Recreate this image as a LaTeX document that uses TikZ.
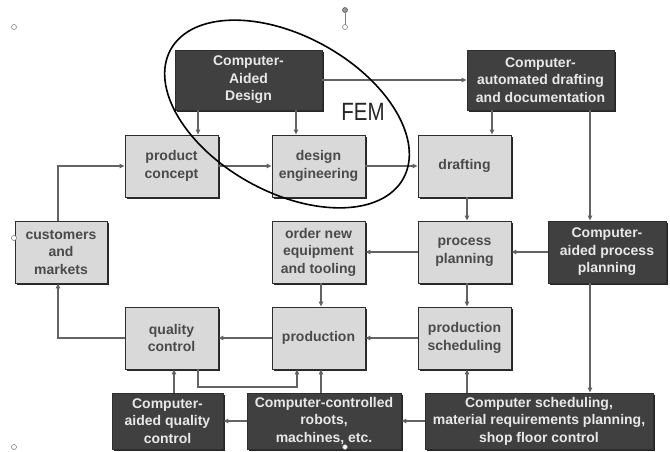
\documentclass[tikz,border=0pt]{standalone}
\usepackage{fontspec}
\usepackage{graphicx}
\setmainfont{Liberation Sans}
\usetikzlibrary{shadows,arrows.meta}
\definecolor{lightfill}{HTML}{D9D9D9}
\definecolor{darkfill}{HTML}{404040}
\definecolor{edgec}{HTML}{2E2E2E}
\definecolor{shadowc}{HTML}{262626}
\definecolor{linec}{HTML}{636363}
\definecolor{lighttext}{HTML}{4A4A4A}
\definecolor{darktext}{HTML}{E8E8E8}
\begin{document}
\begin{tikzpicture}[x=1pt,y=-1pt,
 box/.style={rectangle, draw=edgec, line width=0.9pt, inner sep=0pt, align=center,
   font=\bfseries\fontsize{14}{17.5}\selectfont,
   drop shadow={shadow xshift=2pt, shadow yshift=-2pt, fill=shadowc, opacity=1}},
 lbox/.style={box, fill=lightfill, text=lighttext},
 dbox/.style={box, fill=darkfill, text=darktext},
 arr/.style={draw=linec, line width=1.2pt, -{Triangle[length=5pt,width=4.5pt]}},
 plain/.style={draw=linec, line width=1.2pt},
 handle/.style={draw=gray, fill=white, line width=0.6pt}]
\useasboundingbox (0,0) rectangle (670,451);

% boxes
\node[dbox, minimum width=147pt, minimum height=60pt] (cad) at (248.5,80) {Computer-\\Aided\\Design};
\node[dbox, minimum width=147pt, minimum height=60pt] (cadd) at (540.5,80) {Computer-\\automated drafting\\and documentation};
\node[lbox, minimum width=93pt, minimum height=62pt] (pc) at (171.5,166) {product\\concept};
\node[lbox, minimum width=93pt, minimum height=62pt] (de) at (318.5,166) {design\\engineering};
\node[lbox, minimum width=93pt, minimum height=62pt] (dr) at (464.5,166) {drafting};
\node[lbox, minimum width=92pt, minimum height=62pt] (cm) at (61,252) {customers\\and\\markets};
\node[lbox, minimum width=93pt, minimum height=62pt] (on) at (318.5,252) {order new\\equipment\\and tooling};
\node[lbox, minimum width=93pt, minimum height=62pt] (pp) at (464.5,252) {process\\planning};
\node[dbox, minimum width=118pt, minimum height=62pt] (capp) at (607,252) {Computer-\\aided process\\planning};
\node[lbox, minimum width=93pt, minimum height=62pt] (qc) at (171.5,338) {quality\\control};
\node[lbox, minimum width=93pt, minimum height=62pt] (pr) at (318.5,338) {production};
\node[lbox, minimum width=93pt, minimum height=62pt] (ps) at (464.5,338) {production\\scheduling};
\node[dbox, minimum width=111pt, minimum height=56pt] (caqc) at (167.5,421) {Computer-\\aided quality\\control};
\node[dbox, minimum width=154pt, minimum height=56pt] (rob) at (324,421) {Computer-controlled\\robots,\\machines, etc.};
\node[dbox, minimum width=228pt, minimum height=56pt] (sch) at (539,421) {Computer scheduling,\\material requirements planning,\\shop floor control};

% connectors
\draw[arr] (cad.east) -- (cadd.west);
\draw[arr] (198,0 |- cad.south) -- (198,0 |- pc.north);
\draw[arr] (296,0 |- cad.south) -- (296,0 |- de.north);
\draw[arr] (492,0 |- cadd.south) -- (492,0 |- dr.north);
\draw[arr] (590,0 |- cadd.south) -- (590,0 |- capp.north);
\draw[arr] (pc.east) -- (de.west);
\draw[arr] (de.east) -- (dr.west);
\draw[arr] (58,0 |- cm.north) |- (pc.west);
\draw[arr] (467,0 |- dr.south) -- (467,0 |- pp.north);
\draw[arr] (capp.west) -- (pp.east);
\draw[arr] (pp.west) -- (on.east);
\draw[arr] (321,0 |- on.south) -- (321,0 |- pr.north);
\draw[arr] (467,0 |- pp.south) -- (467,0 |- ps.north);
\draw[arr] (ps.west) -- (pr.east);
\draw[arr] (pr.west) -- (qc.east);
\draw[arr] (qc.west) -| (58,0 |- cm.south);
\draw[arr] (198,0 |- qc.south) -- (198,387) -- (297,387) -- (297,0 |- pr.south);
\draw[arr] (174,0 |- caqc.north) -- (174,0 |- qc.south);
\draw[arr] (321,0 |- rob.north) -- (321,0 |- pr.south);
\draw[arr] (rob.west) -- (caqc.east);
\draw[arr] (sch.west) -- (rob.east);
\draw[arr] (467,0 |- sch.north) -- (467,0 |- ps.south);
\draw[arr] (590,0 |- capp.south) -- (590,0 |- sch.north);

% FEM ellipse
\draw[black, line width=1.6pt, rotate around={-29:(287,114)}] (287,114) ellipse [x radius=133pt, y radius=78pt];
\node[font=\fontsize{25}{28}\selectfont, text=black!85] (fem) at (363,112) {\scalebox{0.82}[1]{FEM}};

% selection handles
\draw[gray, line width=0.6pt] (345,12.5) -- (345,24.5);
\fill[gray!80, draw=gray!60!black, line width=0.5pt] (345,10) circle [radius=2.5pt];
\draw[handle] (345,27) circle [radius=2.5pt];
\draw[handle] (14,27) circle [radius=2.5pt];
\draw[handle] (14,238) circle [radius=2.5pt];
\draw[handle] (14,447) circle [radius=2.5pt];
\draw[handle] (345,447) circle [radius=2.5pt];
\end{tikzpicture}
\end{document}
